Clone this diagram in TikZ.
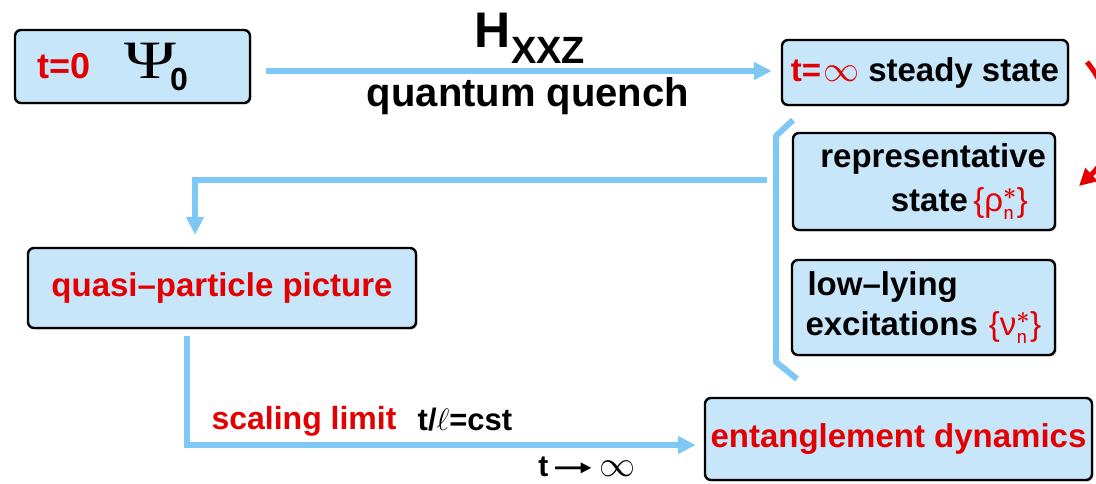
\RequirePackage{fix-cm}
\documentclass[tikz,border=0pt]{standalone}
\usepackage{amsmath}
\usepackage{graphicx}
\usepackage{fontspec}
\setmainfont{Liberation Sans}
\newfontfamily\serifps{Liberation Serif}
\newfontfamily\thinsans{Liberation Sans}
\newfontfamily\arrowfont{DejaVu Sans}
\usetikzlibrary{arrows.meta,shadows}
\definecolor{boxfill}{RGB}{199,230,249}
\definecolor{flowblue}{RGB}{125,200,245}
\definecolor{hired}{RGB}{228,0,0}
\newcommand{\fs}[1]{\fontsize{#1}{#1}\selectfont}
\newcommand{\setsym}[1]{{\color{hired}\thinsans\mdseries\{#1$^{\boldsymbol{\ast}}_{\mathsf{n}}$\}}}
\begin{document}
\begin{tikzpicture}[x=1pt,y=-1pt,
  box/.style={draw=black,line width=2.4pt,rounded corners=6pt,fill=boxfill,
    drop shadow={shadow xshift=1.5pt,shadow yshift=-1.5pt,opacity=0.35},
    inner sep=0pt,font=\bfseries\fs{33}},
  flow/.style={draw=flowblue,line width=6pt,
    -{Triangle[width=17pt,length=18pt]}},
  bracket/.style={draw=flowblue,line width=6pt,line join=round},
  redtxt/.style={text=hired}]
\clip (0,0) rectangle (1096,484);
\fill[white] (0,0) rectangle (1096,484);

% boxes
\node[box,minimum width=235pt,minimum height=73pt] (b0) at (132.5,66.5)
  {\textcolor{hired}{\fs{36}t=0}\hspace{34pt}{\serifps\mdseries\fs{54}\scalebox{1.3}[1]{Ψ}}\hspace{-6pt}\raisebox{-12pt}{\fs{32}0}\rule{40pt}{0pt}};
\node[box,minimum width=286pt,minimum height=65pt] (steady) at (925,72.5)
  {\textcolor{hired}{t=\hspace{2pt}{\mdseries\fs{36}$\infty$}}\hspace{9pt}steady state};
\node[box,minimum width=262pt,minimum height=97pt,text width=244pt,align=right,font=\bfseries\fs{33}\setlength{\baselineskip}{44pt}] (rep) at (924,181.5)
  {representative\\ state\,\setsym{ρ}\rule{18pt}{0pt}};
\node[box,minimum width=263pt,minimum height=95pt,text width=244pt,align=left,font=\bfseries\fs{33}\setlength{\baselineskip}{40pt}] (low) at (923.5,307.5)
  {\hspace*{6pt}low–lying\\ \hspace*{4pt}excitations \setsym{ν}};
\node[box,minimum width=388pt,minimum height=80pt,redtxt] (quasi) at (222,288)
  {quasi–particle picture};
\node[box,minimum width=387pt,minimum height=82pt,redtxt] (ent) at (898.5,439)
  {entanglement dynamics};

% labels
\node[font=\bfseries] (ham) at (530,38) {\fs{50}H\raisebox{-16pt}{\fs{38}XXZ}};
\node[font=\bfseries\fs{40}] (quench) at (528,96) {quantum quench};
\node[font=\bfseries\fs{32},redtxt] (scal) at (304,421) {scaling limit};
\node[font=\bfseries\fs{31}] (cst) at (465,420) {t/{\mdseries$\ell$}=cst};
\node[font=\bfseries\fs{30}] (tinf) at (587,467) {t\hspace{4pt}{\arrowfont\bfseries\fs{26}\scalebox{1.9}[1]{➞}}\hspace{6pt}{\mdseries\fs{36}$\infty$}};

% connectors
\draw[flow] ([xshift=15pt,yshift=-4.5pt]b0.east) -- ([xshift=-9pt,yshift=1.5pt]steady.west);

\coordinate (brtop) at (793,120);
\coordinate (brbot) at (797,379);
\draw[bracket] (brtop) -- (776,136) -- (776,362) -- (brbot);

\coordinate (brmid) at (767,180);
\draw[flow] (brmid) -| ([xshift=-27pt,yshift=12pt]quasi.north);

\draw[flow] ([xshift=-35pt,yshift=-7pt]quasi.south) |- ([xshift=-8pt,yshift=-6pt]ent.west);

% red curved arrow
\coordinate (ra) at (1087,62);
\coordinate (rb) at (1079,186);
\draw[draw=hired,line width=5pt,-{Triangle[width=17pt,length=17pt]}]
  (ra) .. controls (1118,100) and (1118,150) .. (rb);
\end{tikzpicture}
\end{document}
